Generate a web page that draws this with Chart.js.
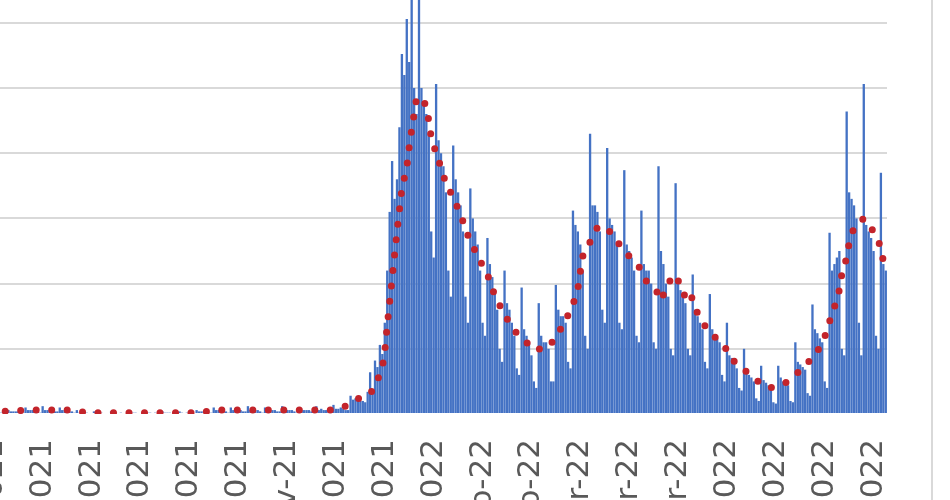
<!DOCTYPE html>
<html>
<head>
<meta charset="utf-8">
<script src="https://cdn.jsdelivr.net/npm/chart.js@4.4.1/dist/chart.umd.min.js"></script>
<style>
  html, body { margin: 0; padding: 0; background: #fff; overflow: hidden; width: 950px; height: 500px; }
  #wrap { position: absolute; left: -27px; top: 0; width: 914px; height: 514px; }
  #frame { position: absolute; left: 931px; top: 0; width: 2px; height: 500px; background: #d9d9d9; }
</style>
</head>
<body>
<div id="wrap"><canvas id="chart"></canvas></div>
<div id="frame"></div>
<script>
// first day of the series, one bar per day
const startDate = [2021, 6, 11];

// daily values (thousands), one row per week
const dailyCases = [
  0.4, 0.2, 0.2, 0.2, 0.2, 0.1, 0.1,
  0.4, 0.2, 0.2, 0.2, 0.1, 0.1, 0.1,
  0.3, 0.2, 0.2, 0.2, 0.2, 0.1, 0.1,
  0.5, 0.3, 0.3, 0.3, 0.3, 0.2, 0.1,
  0.6, 0.3, 0.3, 0.3, 0.3, 0.2, 0.2,
  0.5, 0.3, 0.3, 0.3, 0.2, 0.2, 0.1,
  0.3, 0.1, 0.1, 0.1, 0.1, 0, 0,
  0.2, 0.1, 0.1, 0.1, 0, 0, 0,
  0.2, 0.1, 0.1, 0, 0.1, 0, 0,
  0.2, 0.1, 0.1, 0.1, 0, 0, 0,
  0.2, 0.1, 0.1, 0, 0.1, 0, 0,
  0.2, 0.1, 0.1, 0.1, 0, 0, 0,
  0.2, 0.1, 0, 0.1, 0.1, 0, 0,
  0.3, 0.2, 0.2, 0.2, 0.1, 0.1, 0.1,
  0.5, 0.3, 0.3, 0.3, 0.3, 0.2, 0.1,
  0.5, 0.3, 0.3, 0.3, 0.3, 0.2, 0.2,
  0.6, 0.3, 0.3, 0.3, 0.3, 0.2, 0.1,
  0.5, 0.3, 0.3, 0.3, 0.3, 0.2, 0.2,
  0.6, 0.3, 0.3, 0.3, 0.3, 0.2, 0.1,
  0.5, 0.3, 0.3, 0.3, 0.3, 0.2, 0.2,
  0.6, 0.3, 0.4, 0.3, 0.3, 0.2, 0.2,
  0.7, 0.4, 0.4, 0.5, 0.4, 0.3, 0.3,
  1.4, 1.1, 1.2, 1.1, 1.0, 1.0, 0.9,
  1.7, 3.2, 1.6, 4.1, 3.6, 5.3, 4.6,
  7, 11, 15.5, 19.4, 16.5, 18, 22,
  27.6, 26, 30.3, 27, 34, 25, 23,
  36, 25, 24, 23, 21.5, 14, 12,
  25.3, 21, 20, 19, 17, 11, 9,
  20.6, 18, 17, 16, 14, 9, 7,
  17.3, 15, 14, 13, 11, 7, 6,
  13.5, 11.5, 10.5, 9.5, 8, 5, 4,
  11, 8.5, 8, 7, 6, 3.5, 3,
  9.7, 6.5, 6, 5.5, 4.5, 2.5, 2,
  8.5, 6, 5.5, 5.5, 5, 2.5, 2.5,
  9.9, 8, 7.5, 7.5, 7, 4, 3.5,
  15.6, 14.5, 14, 13, 11, 6, 5,
  21.5, 16, 16, 15.5, 14, 8, 7,
  20.4, 15, 14.5, 14, 13, 7, 6.5,
  18.7, 13, 12.5, 12, 11, 6, 5.5,
  15.6, 11.5, 11, 11, 10, 5.5, 5,
  19, 12.5, 11.5, 10, 9, 5, 4.5,
  17.7, 10, 9.5, 9, 8.5, 5, 4.5,
  10.7, 8, 7.5, 7, 6.5, 4, 3.5,
  9.2, 6.5, 6, 5.8, 5.5, 3, 2.5,
  7, 4.5, 4.3, 4, 3.5, 2, 1.8,
  5, 3.5, 3, 2.8, 2.5, 1.2, 1,
  3.7, 2.6, 2.4, 2.2, 2, 0.9, 0.8,
  3.7, 2.8, 2.5, 2.4, 2.2, 1, 0.9,
  5.5, 4, 3.8, 3.6, 3.4, 1.6, 1.4,
  8.4, 6.5, 6.2, 5.8, 5.5, 2.5, 2,
  13.9, 11, 11.5, 12, 12.5, 5, 4.5,
  23.2, 17, 16.5, 16, 15, 7, 4.5,
  25.3, 14.5, 14, 13.5, 12.5, 6, 5,
  18.5, 11.5, 11
];

// moving average (day index -> value)
const maDays = [0, 11, 23, 39, 46, 92, 99, 146, 151, 156, 162, 165, 167, 168, 169, 170, 173, 175,
  177, 178, 179, 180, 181, 183, 185, 186, 187, 189, 191, 193, 196, 199, 202, 206, 210, 213, 217,
  221, 225, 229, 232, 235, 239, 242, 245, 247, 248, 249, 252, 255, 258, 260, 264, 268, 272, 275,
  279, 281, 283, 286, 289, 291, 293, 295, 298, 302, 307, 310, 315, 320, 325, 328, 332, 336, 341,
  345, 348, 350, 352, 354, 355, 357, 358, 360, 364, 368, 371, 372];
const maValues = [0.2, 0.2, 0.3, 0.3, 0.1, 0.1, 0.3, 0.3, 0.5, 1.1, 1.5, 2.6, 3.6, 4.8, 6.8, 8.6, 14, 17.3,
  18.9, 20.5, 21.8, 23, 24.2, 24.3, 23.6, 22.5, 21.2, 20, 18.9, 17.7, 16.6, 15.3, 13.7, 12.1, 10.7, 9.1, 7.6,
  6.4, 5.7, 4.9, 5.0, 5.1, 6.2, 7.2, 8.4, 9.6, 10.9, 12.1, 13.2, 14.3, 14.4, 14, 13, 12.1, 11.3, 10.2,
  9.5, 8.7, 9.6, 10.7, 10.0, 8.9, 9.3, 8.1, 7.0, 6.1, 5.2, 4.2, 3.4, 2.6, 2.0, 2.1, 2.4, 3.0, 3.9,
  4.8, 5.9, 7.1, 8.2, 9.5, 10.7, 12.0, 13.1, 14.3, 15.0, 14.0, 12.8, 11.7];

// tick labels as they appear on the axis
const tickDates = ['2021-07-19', '2021-08-08', '2021-08-28', '2021-09-17', '2021-10-07', '2021-10-27',
  '2021-11-16', '2021-12-06', '2021-12-26', '2022-01-15', '2022-02-04', '2022-02-24', '2022-03-16',
  '2022-04-05', '2022-04-25', '2022-05-15', '2022-06-04', '2022-06-24', '2022-07-14'];
const tickLabels = ['19/07/2021', '08/08/2021', '28/08/2021', '17/09/2021', '07/10/2021', '27/10/2021',
  '16-Nov-21', '06/12/2021', '26/12/2021', '15/01/2022', '4-Feb-22', '24-Feb-22', '16-Mar-22',
  '5-Apr-22', '25-Apr-22', '15/05/2022', '04/06/2022', '24/06/2022', '14/07/2022'];

const days = dailyCases.map((v, i) =>
  new Date(Date.UTC(startDate[0], startDate[1], startDate[2] + i)).toISOString().slice(0, 10));

const maSeries = days.map(() => null);
maDays.forEach((d, i) => { maSeries[d] = maValues[i]; });

const tickMap = {};
tickDates.forEach((d, i) => { tickMap[d] = tickLabels[i]; });

new Chart(document.getElementById("chart"), {
  type: "bar",
  data: {
    labels: days,
    datasets: [
      {
        type: "line",
        data: maSeries,
        spanGaps: true,
        borderColor: "#c3242b",
        borderWidth: 7,
        borderDash: [0, 15.5],
        borderCapStyle: "round",
        pointRadius: 0,
        tension: 0,
        order: 0
      },
      {
        data: dailyCases,
        backgroundColor: "#4472c4",
        barPercentage: 1,
        categoryPercentage: 0.95,
        order: 1
      }
    ]
  },
  options: {
    responsive: true,
    maintainAspectRatio: false,
    animation: false,
    layout: { padding: 0 },
    plugins: { legend: { display: false }, tooltip: { enabled: false } },
    scales: {
      x: {
        grid: { display: false, drawTicks: false },
        border: { display: false },
        afterFit: (scale) => {
          // the picture is cropped: no room kept for the outer labels
          scale.height = 100;
          scale.paddingLeft = 0;
          scale.paddingRight = 0;
        },
        ticks: {
          autoSkip: false,
          minRotation: 90,
          maxRotation: 90,
          padding: 25,
          color: "#595959",
          font: { family: "DejaVu Sans", size: 31 },
          callback: function (value) {
            const d = this.getLabelForValue(value);
            return tickMap[d] !== undefined ? tickMap[d] : null;
          }
        }
      },
      y: {
        min: 0,
        max: 31.75,
        border: { display: false },
        grid: {
          drawTicks: false,
          lineWidth: 2,
          color: (ctx) => (ctx.tick && ctx.tick.value === 0 ? "rgba(0,0,0,0)" : "#d9d9d9")
        },
        ticks: { display: false, stepSize: 5, includeBounds: false }
      }
    }
  }
});
</script>
</body>
</html>
